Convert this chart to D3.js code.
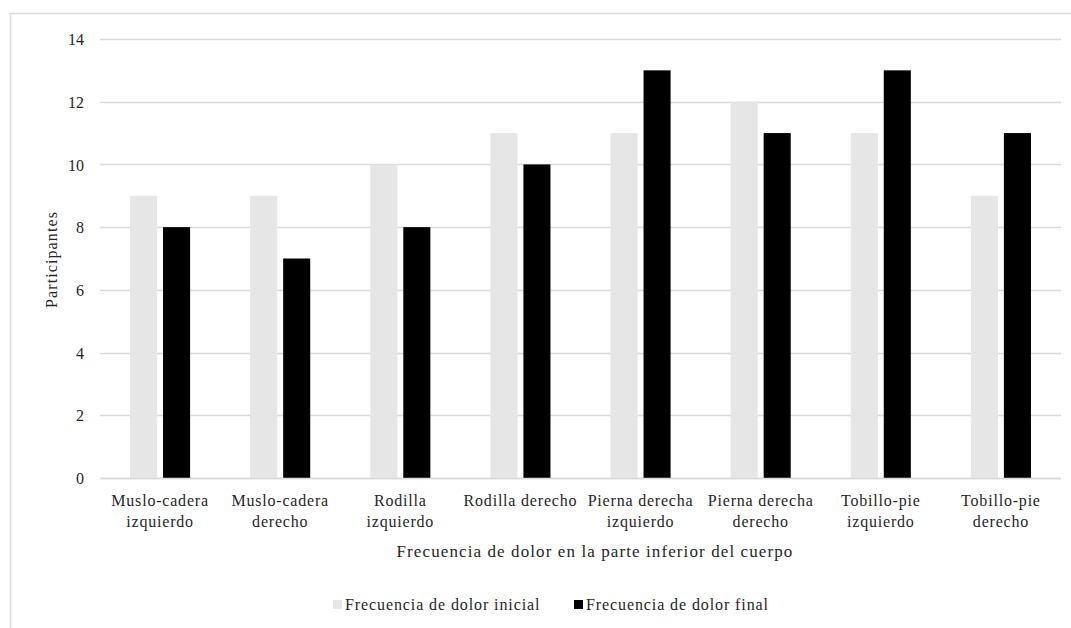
<!DOCTYPE html>
<html>
<head>
<meta charset="utf-8">
<script src="https://cdn.jsdelivr.net/npm/d3@7"></script>
<style>
  html, body { margin: 0; padding: 0; background: #fff; }
  svg text { font-family: "Liberation Serif", "Times New Roman", Times, "Liberation Sans", Arial, sans-serif; }
</style>
</head>
<body>
<svg id="chart" width="1071" height="628"></svg>
<script>
// Body regions (line breaks mark how the tick labels wrap)
const categories = [
  "Muslo-cadera\nizquierdo",
  "Muslo-cadera\nderecho",
  "Rodilla\nizquierdo",
  "Rodilla derecho",
  "Pierna derecha\nizquierdo",
  "Pierna derecha\nderecho",
  "Tobillo-pie\nizquierdo",
  "Tobillo-pie\nderecho"
];
const seriesNames = ["Frecuencia de dolor inicial", "Frecuencia de dolor final"];
const dolorInicial = [9, 9, 10, 11, 11, 12, 11, 9];
const dolorFinal = [8, 7, 8, 10, 13, 11, 13, 11];
const yTicks = [0, 2, 4, 6, 8, 10, 12, 14];
const colors = ["#e6e6e6", "#000000"];

const svg = d3.select("#chart");
const W = 1071, H = 628;
const textColor = "#262626";
const gridColor = "#d9d9d9";

// Outer chart frame (right and bottom edges fall outside the canvas)
svg.append("rect")
  .attr("x", 10.5).attr("y", 13.5)
  .attr("width", W + 20).attr("height", H + 20)
  .attr("fill", "none").attr("stroke", gridColor).attr("stroke-width", 1.5);

const x0 = d3.scaleBand().domain(categories).range([100, 1061]);
const x1 = d3.scaleBand().domain([0, 1]).range([0, x0.bandwidth()])
  .paddingInner(0.18).paddingOuter(0.91);
const y = d3.scaleLinear().domain([0, 14]).range([478, 39]);

// Horizontal gridlines
svg.append("g").selectAll("line").data(yTicks).join("line")
  .attr("x1", 100).attr("x2", 1061)
  .attr("y1", d => Math.round(y(d)) + 0.5).attr("y2", d => Math.round(y(d)) + 0.5)
  .attr("stroke", gridColor).attr("stroke-width", 1.5);

// Y axis tick labels
const yAxis = d3.axisLeft(y).tickValues(yTicks).tickSize(0).tickPadding(0);
const gy = svg.append("g").attr("transform", "translate(84,0)").call(yAxis);
gy.select(".domain").remove();
gy.attr("font-size", null).attr("font-family", null);
gy.selectAll("text").attr("font-size", 16).attr("fill", textColor).attr("dy", "0.35em");

// Bars
const groups = svg.append("g").selectAll("g").data(categories).join("g")
  .attr("transform", d => `translate(${x0(d)},0)`);
groups.selectAll("rect")
  .data((d, i) => [dolorInicial[i], dolorFinal[i]])
  .join("rect")
  .attr("x", (v, j) => x1(j))
  .attr("width", x1.bandwidth())
  .attr("y", v => y(v))
  .attr("height", v => y(0) - y(v))
  .attr("fill", (v, j) => colors[j]);

// Baseline redrawn over bar bottoms
svg.append("line").attr("x1", 100).attr("x2", 1061)
  .attr("y1", Math.round(y(0)) + 0.5).attr("y2", Math.round(y(0)) + 0.5)
  .attr("stroke", gridColor).attr("stroke-width", 1.5);

// Category tick labels
const xAxis = d3.axisBottom(x0).tickSize(0).tickFormat("");
const gx = svg.append("g").attr("transform", `translate(0,${y(0)})`).call(xAxis);
gx.select(".domain").remove();
gx.attr("font-size", null).attr("font-family", null);
gx.selectAll(".tick").each(function(d) {
  const t = d3.select(this).append("text")
    .attr("text-anchor", "middle").attr("font-size", 16)
    .attr("letter-spacing", 0.8).attr("fill", textColor);
  d.split("\n").forEach((line, k) => {
    t.append("tspan").attr("x", 0).attr("y", 28 + k * 21).text(line);
  });
});

// Axis titles
svg.append("text")
  .attr("x", 595).attr("y", 557)
  .attr("text-anchor", "middle").attr("font-size", 17).attr("letter-spacing", 1.1)
  .attr("fill", textColor)
  .text("Frecuencia de dolor en la parte inferior del cuerpo");
svg.append("text")
  .attr("transform", `translate(57,${(39 + 478) / 2 + 1}) rotate(-90)`)
  .attr("text-anchor", "middle").attr("font-size", 16).attr("letter-spacing", 1.1)
  .attr("fill", textColor)
  .text("Participantes");

// Legend
const legendX = [333, 574];
const legend = svg.append("g").selectAll("g").data(seriesNames).join("g")
  .attr("transform", (d, i) => `translate(${legendX[i]},610)`);
legend.append("rect").attr("x", 0).attr("y", -10).attr("width", 9).attr("height", 9)
  .attr("fill", (d, i) => colors[i]);
legend.append("text").attr("x", 12).attr("y", 0)
  .attr("font-size", 16).attr("letter-spacing", 0.9)
  .attr("fill", textColor).text(d => d);
</script>
</body>
</html>
